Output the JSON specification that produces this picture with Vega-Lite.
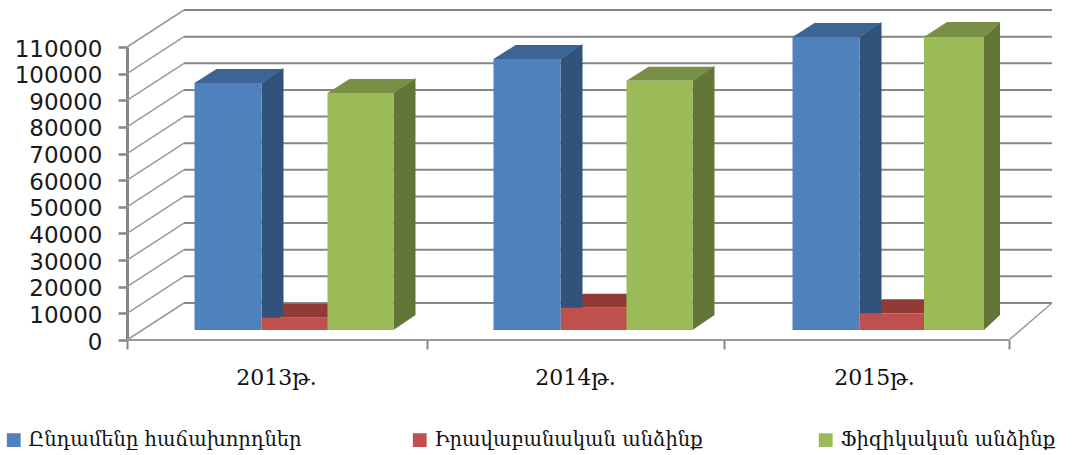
{
"$schema":"https://vega.github.io/schema/vega-lite/v6.json",
"width":897,"height":293,"autosize":"none",
"padding":{"left":127,"top":47,"right":48,"bottom":115},
"background":"white",
"config":{"view":{"stroke":null},"axisY":{"values":[0,10000,20000,30000,40000,50000,60000,70000,80000,90000,100000,110000],"tickCount":12,"format":"d","title":null,"grid":false,"domain":true,"domainColor":"#868686","domainWidth":3,"tickColor":"#868686","tickWidth":2.5,"tickSize":9,"labelFont":"DejaVu Sans","labelFontSize":23,"labelColor":"#1a1a1a","labelPadding":16,"labelOverlap":false,"labelSeparation":0,"labelOffset":2}},
"datasets":{
"bars":[
{"year":"2013թ.","series":"Ընդամենը հաճախորդներ","value":92700},
{"year":"2014թ.","series":"Ընդամենը հաճախորդներ","value":101700},
{"year":"2015թ.","series":"Ընդամենը հաճախորդներ","value":110000},
{"year":"2013թ.","series":"Իրավաբանական անձինք","value":4600},
{"year":"2014թ.","series":"Իրավաբանական անձինք","value":8400},
{"year":"2015թ.","series":"Իրավաբանական անձինք","value":6300},
{"year":"2013թ.","series":"Ֆիզիկական անձինք","value":89000},
{"year":"2014թ.","series":"Ֆիզիկական անձինք","value":93600},
{"year":"2015թ.","series":"Ֆիզիկական անձինք","value":110000}],
"ticks":[{"v":0},{"v":10000},{"v":20000},{"v":30000},{"v":40000},{"v":50000},{"v":60000},{"v":70000},{"v":80000},{"v":90000},{"v":100000},{"v":110000}]
},
"data":{"name":"bars"},
"resolve":{"scale":{"x":"independent"},"axis":{"x":"independent"}},
"layer":[
{"data":{"name":"ticks"},
 "layer":[
 {"mark":{"type":"rule","color":"#868686","strokeWidth":2,"yOffset":-37,"y2Offset":-37},
  "encoding":{"x":{"datum":57,"type":"quantitative","scale":{"domain":[0,897],"nice":false},"axis":{"values":[0,300,597,882],"labels":false,"domain":false,"grid":false,"tickSize":9,"tickColor":"#868686","tickWidth":2,"title":null,"orient":"bottom"}},"x2":{"datum":925},
  "y":{"field":"v","type":"quantitative","scale":{"domain":[0,110000],"nice":false},"axis":{"values":[0,10000,20000,30000,40000,50000,60000,70000,80000,90000,100000,110000],"tickCount":12,"title":null,"labelOverlap":false}},"y2":{"field":"v"}}},
 {"mark":{"type":"rule","color":"#9a9a9a","strokeWidth":1.5,"y2Offset":-37},
  "encoding":{"x":{"datum":0,"type":"quantitative"},"x2":{"datum":57},"y":{"field":"v","type":"quantitative","axis":{"values":[0,10000,20000,30000,40000,50000,60000,70000,80000,90000,100000,110000],"tickCount":12,"title":null,"labelOverlap":false}},"y2":{"field":"v"}}},
 {"transform":[{"filter":"datum.v===0"}],"mark":{"type":"rule","color":"#9a9a9a","strokeWidth":2},
  "encoding":{"x":{"datum":0,"type":"quantitative"},"x2":{"datum":882},"y":{"field":"v","type":"quantitative","axis":{"values":[0,10000,20000,30000,40000,50000,60000,70000,80000,90000,100000,110000],"tickCount":12,"title":null,"labelOverlap":false}},"y2":{"field":"v"}}},
 {"transform":[{"filter":"datum.v===0"}],"mark":{"type":"rule","color":"#9a9a9a","strokeWidth":1.5,"y2Offset":-37},
  "encoding":{"x":{"datum":882,"type":"quantitative"},"x2":{"datum":925},"y":{"field":"v","type":"quantitative","axis":{"values":[0,10000,20000,30000,40000,50000,60000,70000,80000,90000,100000,110000],"tickCount":12,"title":null,"labelOverlap":false}},"y2":{"field":"v"}}}
 ]},
{"encoding":{
  "x":{"field":"year","type":"nominal","scale":{"type":"band","paddingInner":0,"paddingOuter":0},"sort":null,"axis":{"title":null,"domain":false,"ticks":false,"labelAngle":0,"labelFont":"DejaVu Serif","labelFontSize":22,"labelColor":"#111111","labelPadding":27,"orient":"bottom"}},
  "y":{"field":"value","type":"quantitative","stack":null,"axis":{"values":[0,10000,20000,30000,40000,50000,60000,70000,80000,90000,100000,110000],"tickCount":12,"title":null,"labelOverlap":false}}
 },
 "layer":[
 {"transform":[{"filter":"datum.series==='Իրավաբանական անձինք'"}],"mark":{"type":"point","filled":true,"opacity":1,"size":40000,"strokeWidth":0,"xOffset":-14,"yOffset":-10,"color":"#923A38","shape":"M0,0 L0.22,-0.14 L0.88,-0.14 L0.66,0 Z"}},
 {"transform":[{"filter":"datum.series==='Ընդամենը հաճախորդներ'"}],"mark":{"type":"rule","strokeWidth":22,"color":"#31527A","xOffset":-4,"yOffset":-10,"y2Offset":-25},"encoding":{"y2":{"datum":0}}},
 {"transform":[{"filter":"datum.series==='Ընդամենը հաճախորդներ'"}],"mark":{"type":"point","filled":true,"opacity":1,"size":40000,"strokeWidth":0,"xOffset":-15,"yOffset":-10,"color":"#31527A","shape":"M0,0 L0.22,-0.15 L0.22,0.01 L0,0.01 Z"}},
 {"transform":[{"filter":"datum.series==='Ընդամենը հաճախորդներ'"}],"mark":{"type":"point","filled":true,"opacity":1,"size":40000,"strokeWidth":0,"xOffset":-15,"yOffset":-10,"color":"#31527A","shape":"M0,0 L0,-0.15 L0.22,-0.15 Z"},"encoding":{"y":{"datum":0,"axis":{"values":[0,10000,20000,30000,40000,50000,60000,70000,80000,90000,100000,110000],"tickCount":12,"title":null,"labelOverlap":false}}}},
 {"transform":[{"filter":"datum.series==='Ընդամենը հաճախորդներ'"}],"mark":{"type":"point","filled":true,"opacity":1,"size":40000,"strokeWidth":0,"xOffset":-82,"yOffset":-10,"color":"#3C6494","shape":"M0,0 L0.22,-0.14 L0.89,-0.14 L0.67,0 Z"}},
 {"transform":[{"filter":"datum.series==='Ֆիզիկական անձինք' && datum.year!=='2015թ.'"}],"mark":{"type":"rule","strokeWidth":22,"color":"#647637","xOffset":128,"yOffset":-10,"y2Offset":-25},"encoding":{"y2":{"datum":0}}},
 {"transform":[{"filter":"datum.series==='Ֆիզիկական անձինք' && datum.year!=='2015թ.'"}],"mark":{"type":"point","filled":true,"opacity":1,"size":40000,"strokeWidth":0,"xOffset":117,"yOffset":-10,"color":"#647637","shape":"M0,0 L0.22,-0.15 L0.22,0.01 L0,0.01 Z"}},
 {"transform":[{"filter":"datum.series==='Ֆիզիկական անձինք' && datum.year!=='2015թ.'"}],"mark":{"type":"point","filled":true,"opacity":1,"size":40000,"strokeWidth":0,"xOffset":117,"yOffset":-10,"color":"#647637","shape":"M0,0 L0,-0.15 L0.22,-0.15 Z"},"encoding":{"y":{"datum":0,"axis":{"values":[0,10000,20000,30000,40000,50000,60000,70000,80000,90000,100000,110000],"tickCount":12,"title":null,"labelOverlap":false}}}},
 {"transform":[{"filter":"datum.series==='Ֆիզիկական անձինք' && datum.year!=='2015թ.'"}],"mark":{"type":"point","filled":true,"opacity":1,"size":40000,"strokeWidth":0,"xOffset":51,"yOffset":-10,"color":"#7A8F46","shape":"M0,0 L0.22,-0.14 L0.88,-0.14 L0.66,0 Z"}},
 {"transform":[{"filter":"datum.series==='Ֆիզիկական անձինք' && datum.year==='2015թ.'"}],"mark":{"type":"rule","strokeWidth":16,"color":"#647637","xOffset":117.5,"yOffset":-10,"y2Offset":-25},"encoding":{"y2":{"datum":0}}},
 {"transform":[{"filter":"datum.series==='Ֆիզիկական անձինք' && datum.year==='2015թ.'"}],"mark":{"type":"point","filled":true,"opacity":1,"size":40000,"strokeWidth":0,"xOffset":109.5,"yOffset":-10,"color":"#647637","shape":"M0,0 L0.16,-0.15 L0.16,0.01 L0,0.01 Z"}},
 {"transform":[{"filter":"datum.series==='Ֆիզիկական անձինք' && datum.year==='2015թ.'"}],"mark":{"type":"point","filled":true,"opacity":1,"size":40000,"strokeWidth":0,"xOffset":109.5,"yOffset":-10,"color":"#647637","shape":"M0,0 L0,-0.15 L0.16,-0.15 Z"},"encoding":{"y":{"datum":0,"axis":{"values":[0,10000,20000,30000,40000,50000,60000,70000,80000,90000,100000,110000],"tickCount":12,"title":null,"labelOverlap":false}}}},
 {"transform":[{"filter":"datum.series==='Ֆիզիկական անձինք' && datum.year==='2015թ.'"}],"mark":{"type":"point","filled":true,"opacity":1,"size":40000,"strokeWidth":0,"xOffset":49.5,"yOffset":-10,"color":"#7A8F46","shape":"M0,0 L0.23,-0.15 L0.76,-0.15 L0.6,0 Z"}},
 {"transform":[{"filter":"datum.series==='Իրավաբանական անձինք'"}],"mark":{"type":"bar","width":66,"xOffset":18.5,"yOffset":-10,"y2Offset":-10},
  "encoding":{"y2":{"datum":0},"color":{"field":"series","type":"nominal","scale":{"domain":["Ընդամենը հաճախորդներ","Իրավաբանական անձինք","Ֆիզիկական անձինք"],"range":["#4F81BD","#C0504D","#9BBB59"]},
   "legend":{"title":null,"orient":"none","legendX":-123,"legendY":383,"direction":"horizontal","columns":3,"gridAlign":"all","columnPadding":108,"symbolType":"square","symbolSize":190,"symbolStrokeWidth":0,"labelFont":"DejaVu Serif","labelFontSize":19.5,"labelColor":"#111111","labelLimit":420,"labelOffset":5}}}},
 {"transform":[{"filter":"datum.series==='Ընդամենը հաճախորդներ'"}],"mark":{"type":"bar","width":67,"xOffset":-48.5,"yOffset":-10,"y2Offset":-10},
  "encoding":{"y2":{"datum":0},"color":{"field":"series","type":"nominal"}}},
 {"transform":[{"filter":"datum.series==='Ֆիզիկական անձինք' && datum.year!=='2015թ.'"}],"mark":{"type":"bar","width":66,"xOffset":84,"yOffset":-10,"y2Offset":-10},
  "encoding":{"y2":{"datum":0},"color":{"field":"series","type":"nominal"}}},
 {"transform":[{"filter":"datum.series==='Ֆիզիկական անձինք' && datum.year==='2015թ.'"}],"mark":{"type":"bar","width":60,"xOffset":79.5,"yOffset":-10,"y2Offset":-10},
  "encoding":{"y2":{"datum":0},"color":{"field":"series","type":"nominal"}}}
 ]}
]
}
